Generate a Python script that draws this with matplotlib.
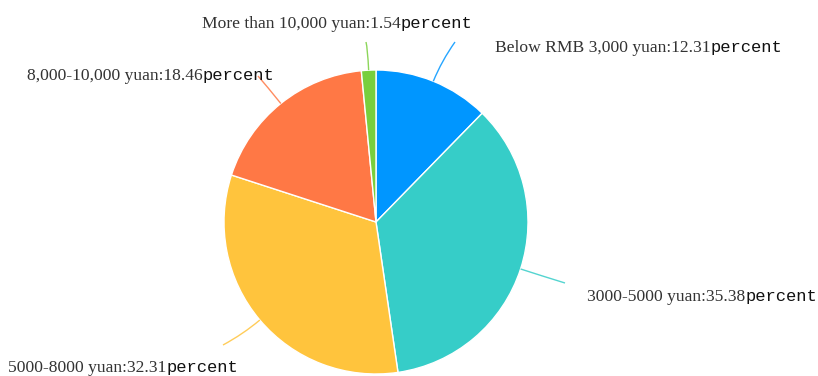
import numpy as np
import matplotlib.pyplot as plt
from matplotlib.path import Path
from matplotlib.patches import PathPatch

labels = ['Below RMB 3,000 yuan', '3000-5000 yuan', '5000-8000 yuan',
          '8,000-10,000 yuan', 'More than 10,000 yuan']
values = [12.31, 35.38, 32.31, 18.46, 1.54]
colors = ['#0096ff', '#36cdc8', '#ffc43d', '#ff7845', '#78cf3d']

# label anchor (x, y in pixels from the top-left), text alignment, line end
label_pos = [(495, 52, 'left', (455, 42)),
             (587, 301, 'left', (565, 283)),
             (8, 372, 'left', (223, 345)),
             (27, 80, 'left', (258, 76)),
             (202, 28, 'left', (366, 42))]

W, H = 818, 376
cx, cy, r = 376, 222, 152

fig = plt.figure(figsize=(W / 100, H / 100), dpi=100)
ax = fig.add_axes([0, 0, 1, 1])

ax.pie(values, colors=colors, startangle=90, counterclock=False,
       center=(cx, H - cy), radius=r,
       wedgeprops=dict(edgecolor='white', linewidth=1))
ax.set_xlim(0, W)
ax.set_ylim(0, H)
ax.set_aspect('equal')
ax.axis('off')

total = sum(values)
cum = 0
for lab, v, c, (tx, ty, ha, end) in zip(labels, values, colors, label_pos):
    mid = np.deg2rad((cum + v / 2) / total * 360)
    cum += v
    sx, sy = cx + r * np.sin(mid), H - (cy - r * np.cos(mid))
    kx, ky = cx + (r + 22) * np.sin(mid), H - (cy - (r + 22) * np.cos(mid))
    ex, ey = end[0], H - end[1]
    path = Path([(sx, sy), (kx, ky), (ex, ey)],
                [Path.MOVETO, Path.CURVE3, Path.CURVE3])
    ax.add_patch(PathPatch(path, fill=False, edgecolor=c, lw=1.0, alpha=0.85))
    t = ax.text(tx, H - ty, f'{lab}:{v:.2f}', ha=ha, va='baseline',
                fontsize=12.6, family='Liberation Serif', color='#333333')
    fig.canvas.draw()
    bb = t.get_window_extent()
    ax.text(bb.x1, H - ty, 'percent', ha='left', va='baseline',
            fontsize=12.3, family='Liberation Mono', color='#111111')

fig.savefig('out.png', dpi=100)
